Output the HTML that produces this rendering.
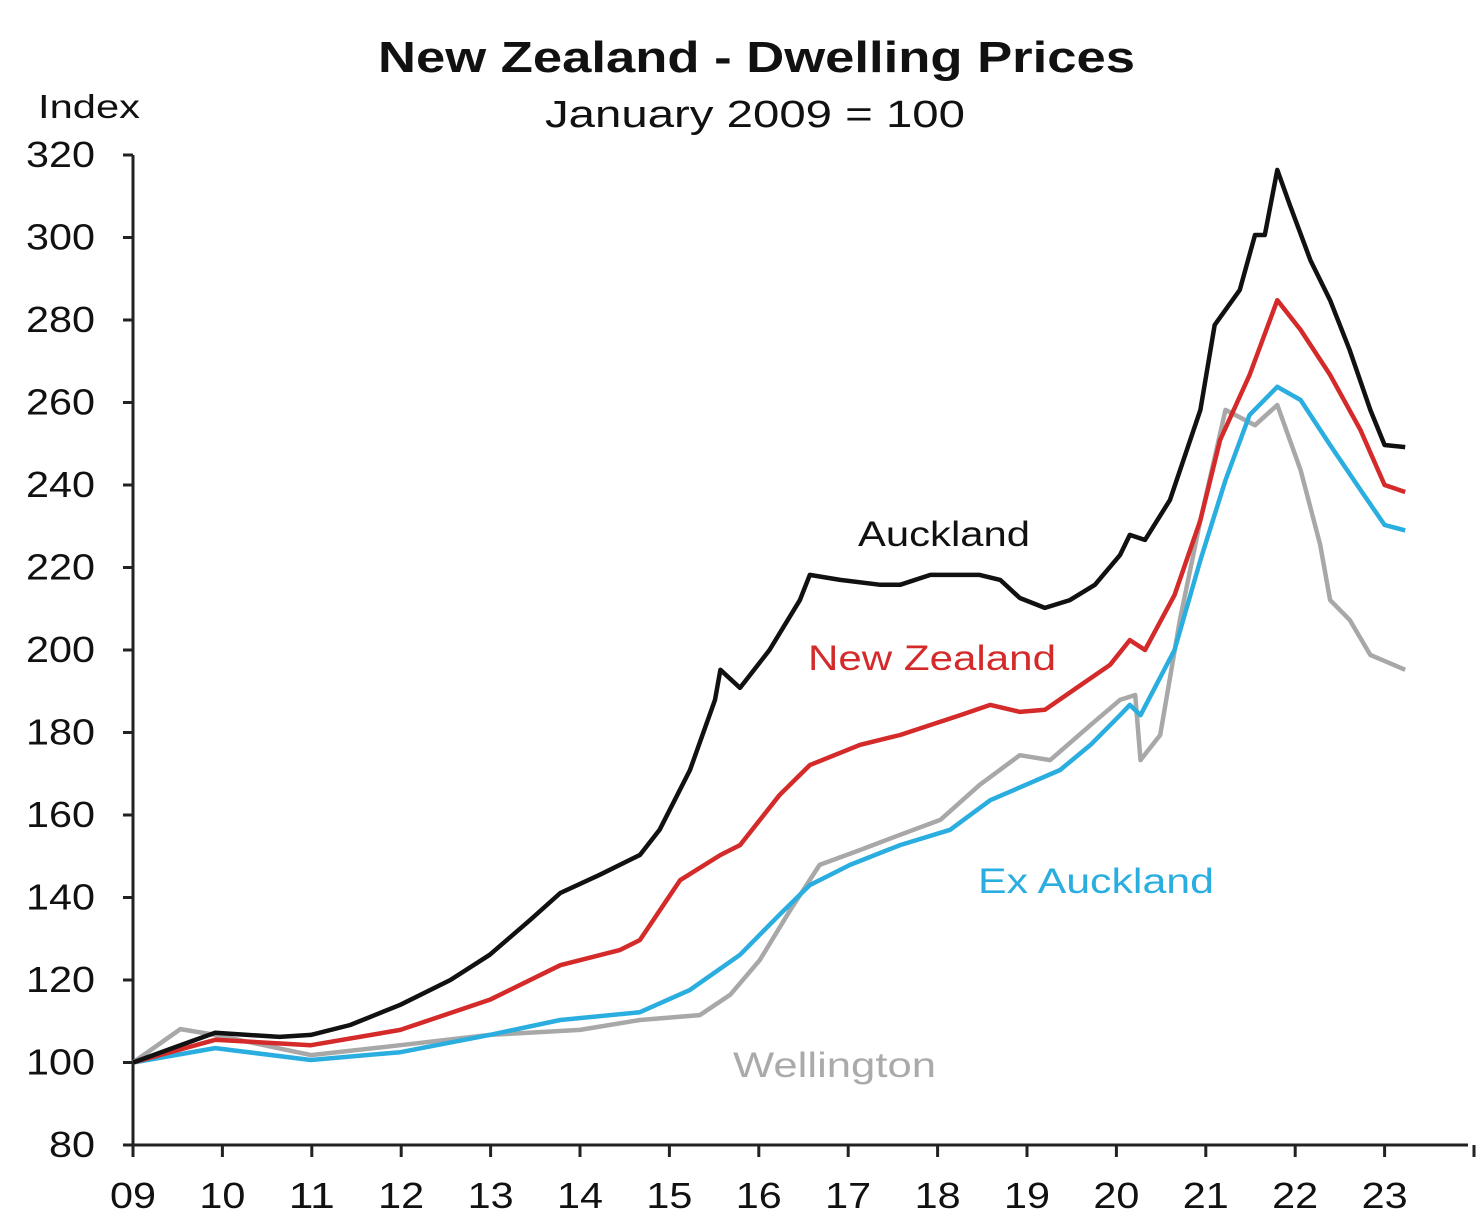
<!DOCTYPE html>
<html><head><meta charset="utf-8"><style>
html,body{margin:0;padding:0;background:#fff;}
svg{display:block;font-family:"Liberation Sans",Arial,sans-serif;}
</style></head><body>
<svg id="chart" width="1478" height="1218">
<text x="378" y="72" font-size="44" font-weight="bold" fill="#111" textLength="757" lengthAdjust="spacingAndGlyphs">New Zealand - Dwelling Prices</text>
<text x="545" y="127" font-size="38" fill="#111" textLength="420" lengthAdjust="spacingAndGlyphs">January 2009 = 100</text>
<text x="38" y="118" font-size="33" fill="#111" textLength="102" lengthAdjust="spacingAndGlyphs">Index</text>
<g id="axes"></g><g id="series"></g>
<text x="858" y="546" font-size="35" fill="#111" textLength="172" lengthAdjust="spacingAndGlyphs">Auckland</text>
<text x="808" y="670" font-size="35" fill="#d42a2a" textLength="248" lengthAdjust="spacingAndGlyphs">New Zealand</text>
<text x="978" y="893" font-size="35" fill="#2aaee0" textLength="236" lengthAdjust="spacingAndGlyphs">Ex Auckland</text>
<text x="733" y="1077" font-size="35" fill="#aaa" textLength="203" lengthAdjust="spacingAndGlyphs">Wellington</text>
</svg>
<script>
const yTicks=[80,100,120,140,160,180,200,220,240,260,280,300,320];
const xTickLabels=["09","10","11","12","13","14","15","16","17","18","19","20","21","22","23"];
const aucklandYears=[2009.0,2009.53,2009.92,2010.64,2010.99,2011.43,2011.99,2012.55,2012.99,2013.44,2013.78,2014.22,2014.67,2014.89,2015.23,2015.51,2015.57,2015.79,2016.12,2016.46,2016.57,2016.91,2017.36,2017.58,2017.92,2018.47,2018.70,2018.92,2019.20,2019.48,2019.76,2020.04,2020.15,2020.32,2020.60,2020.94,2021.10,2021.38,2021.55,2021.66,2021.80,2021.94,2022.17,2022.39,2022.61,2022.84,2023.00,2023.23];
const aucklandValues=[100,104.2,107.2,106.2,106.7,109.1,114,120,126.1,134.5,141.1,145.5,150.3,156.4,170.9,187.9,195.2,190.8,200,212.1,218.2,217,215.8,215.8,218.2,218.2,217,212.6,210.2,212.1,215.8,223,227.9,226.7,236.4,258.2,278.8,287.3,300.6,300.6,316.4,307.9,294.5,284.8,272.7,258.2,249.7,249.2];
const nzYears=[2009.0,2009.92,2010.99,2011.99,2012.99,2013.78,2014.45,2014.67,2015.12,2015.57,2015.79,2016.23,2016.57,2017.13,2017.58,2018.25,2018.59,2018.92,2019.20,2019.60,2019.93,2020.15,2020.32,2020.65,2020.94,2021.16,2021.49,2021.80,2022.06,2022.39,2022.73,2023.00,2023.23];
const nzValues=[100,105.5,104.2,107.9,115.2,123.6,127.3,129.7,144.2,150.3,152.7,164.8,172.1,177,179.4,184.2,186.7,185,185.5,191.5,196.4,202.4,200,213.3,231.5,250.9,266.7,284.8,277.6,266.7,253.3,240,238.3];
const exAucklandYears=[2009.0,2009.92,2010.99,2011.99,2012.99,2013.78,2014.67,2015.23,2015.79,2016.23,2016.57,2017.02,2017.58,2018.14,2018.59,2019.37,2019.71,2020.04,2020.15,2020.27,2020.65,2020.94,2021.22,2021.49,2021.80,2022.06,2022.39,2022.73,2023.00,2023.23];
const exAucklandValues=[100,103.5,100.6,102.5,106.7,110.3,112.2,117.6,126.1,135.8,143,147.9,152.7,156.4,163.6,170.9,177,184.2,186.7,184.2,200,221.8,241.2,257,263.8,260.6,249.7,238.8,230.3,229];
const wellingtonYears=[2009.0,2009.53,2009.92,2010.99,2011.99,2012.99,2014.0,2014.67,2015.34,2015.68,2016.01,2016.35,2016.68,2017.13,2017.58,2018.03,2018.47,2018.92,2019.26,2019.71,2020.04,2020.21,2020.27,2020.49,2020.71,2020.94,2021.22,2021.55,2021.80,2022.06,2022.28,2022.39,2022.61,2022.84,2023.23];
const wellingtonValues=[100,108.1,106.7,101.8,104.2,106.7,107.9,110.3,111.5,116.4,124.8,136.9,147.9,151.5,155.2,158.8,167.3,174.5,173.3,181.8,187.9,189.1,173.3,179.4,207.3,231.5,258.2,254.5,259.4,243.6,225.5,212.1,207.3,198.8,195.2];

const X0=133,YEARPX=89.4,Y80=1145,PXPER=4.125;
const xs=yr=>X0+(yr-2009)*YEARPX;
const ys=v=>Y80-(v-80)*PXPER;
const NS="http://www.w3.org/2000/svg";
function mk(tag,attrs,parent){const e=document.createElementNS(NS,tag);for(const k in attrs)e.setAttribute(k,attrs[k]);parent.appendChild(e);return e;}
const axes=document.getElementById('axes');
let a=mk('line',{x1:X0,y1:ys(320),x2:X0,y2:Y80,stroke:'#222','stroke-width':3},axes);


a=mk('line',{x1:X0,y1:Y80,x2:1468,y2:Y80,stroke:'#222','stroke-width':3},axes);


yTicks.forEach(v=>{
  const t=mk('line',{x1:X0-10,y1:ys(v),x2:X0,y2:ys(v),stroke:'#222','stroke-width':3},axes);
  
  
  const w=String(v).length*23;
  const l=mk('text',{x:95-w,y:ys(v)+12,'font-size':36,fill:'#111',textLength:w,lengthAdjust:'spacingAndGlyphs'},axes);
  l.textContent=v;
  
  
});
for(let i=0;i<=15;i++){
  const t=mk('line',{x1:xs(2009+i),y1:Y80,x2:xs(2009+i),y2:Y80+12,stroke:'#222','stroke-width':3},axes);
  
  
}
xTickLabels.forEach((s,i)=>{
  const l=mk('text',{x:xs(2009+i)-23,y:1208,'font-size':36,fill:'#111',textLength:46,lengthAdjust:'spacingAndGlyphs'},axes);
  l.textContent=s;
  
  
});
const ser=document.getElementById('series');
function line(yrs,vals,color,name){
  const d=yrs.map((y,i)=>(i?'L':'M')+xs(y).toFixed(1)+' '+ys(vals[i]).toFixed(1)).join(' ');
  const p=mk('path',{d:d,fill:'none',stroke:color,'stroke-width':4.5,'stroke-linejoin':'round'},ser);
  
  
}
line(wellingtonYears,wellingtonValues,'#a8a8a8','wellington-line');
line(exAucklandYears,exAucklandValues,'#2aaee0','ex-auckland-line');
line(nzYears,nzValues,'#d42a2a','new-zealand-line');
line(aucklandYears,aucklandValues,'#111','auckland-line');
</script>
</body></html>
